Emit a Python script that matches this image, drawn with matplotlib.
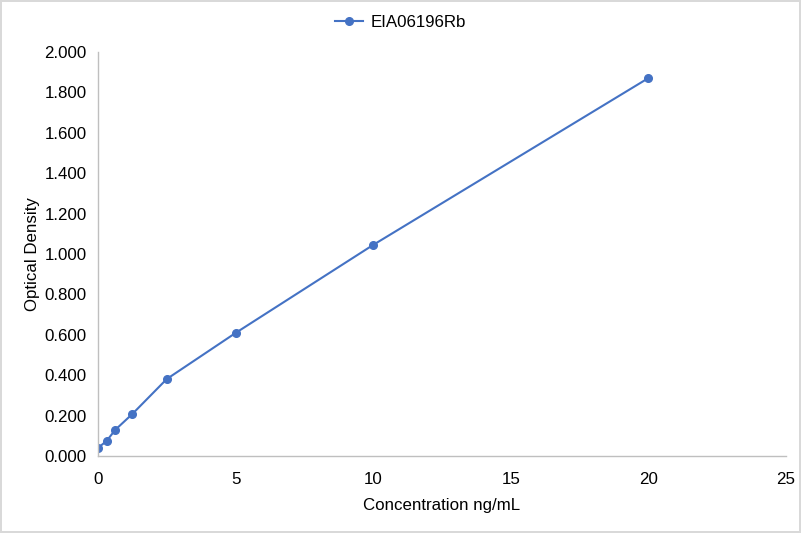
import matplotlib
matplotlib.use('Agg')
import matplotlib.pyplot as plt

## donnees de la courbe standard

conc = [0, 0.3125, 0.625, 1.25, 2.5, 5, 10, 20]
od = [0.040, 0.074, 0.129, 0.208, 0.381, 0.609, 1.045, 1.871]
serie = 'EIA06196Rb'
xticks = [0, 5, 10, 15, 20, 25]
yticks = [0, 0.2, 0.4, 0.6, 0.8, 1.0, 1.2, 1.4, 1.6, 1.8, 2.0]

plt.rcParams['font.family'] = ['Liberation Sans', 'DejaVu Sans']
taille = 12.2

fig = plt.figure(figsize=(8.01, 5.33), dpi=100)
fig.patch.set_edgecolor('#D9D9D9')
fig.patch.set_linewidth(1.5)
ax = fig.add_axes([0.1223, 0.1445, 0.8590, 0.7579])

bleu = '#4472C4'
ax.plot(conc, od, color=bleu, linewidth=1.5, marker='o', markersize=5.5, label=serie)

ax.set_xlim(0, 25)
ax.set_ylim(0, 2.0)
ax.set_xticks(xticks)
ax.set_yticks(yticks)
ax.set_yticklabels(['%.3f' % v for v in yticks])

for s in ['top', 'right']:
    ax.spines[s].set_visible(False)
for s in ['left', 'bottom']:
    ax.spines[s].set_color('#BFBFBF')
    ax.spines[s].set_linewidth(1)
ax.tick_params(length=0, labelsize=taille, colors='#000000', pad=8)
ax.tick_params(axis='x', pad=11.5)

ax.set_xlabel('Concentration ng/mL', fontsize=taille, labelpad=8)
ax.set_ylabel('Optical Density', fontsize=taille, labelpad=3.5)

fig.legend(loc='center', bbox_to_anchor=(0.5, 0.957), frameon=False, fontsize=taille,
           handlelength=1.7, handletextpad=0.45)

fig.savefig('out.png', dpi=100, edgecolor=fig.get_edgecolor())
